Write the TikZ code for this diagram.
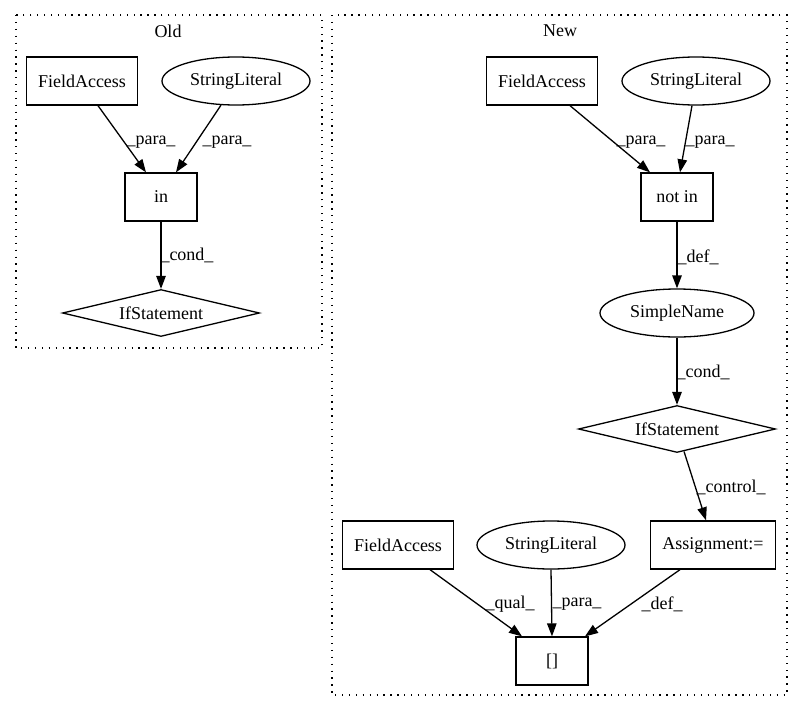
\documentclass[tikz,border=0pt]{standalone}
\usepackage{fontspec}
\setmainfont{Liberation Serif}
\usetikzlibrary{arrows.meta}
\usetikzlibrary{shapes.geometric}

\begin{document}
\begin{tikzpicture}[x=1pt, y=-1pt, line width=1.3pt,
  every node/.style={font=\fontsize{18}{22}\selectfont},
  box/.style={draw, rectangle, minimum height=48pt, inner sep=0pt},
  oval/.style={draw, ellipse, minimum width=148pt, minimum height=48pt, inner sep=0pt},
  cond/.style={draw, diamond, aspect=4.2, minimum width=197pt, minimum height=47pt, inner sep=0pt},
  cluster/.style={line width=1.3pt, dash pattern=on 1.3pt off 5.6pt},
  lbl/.style={inner sep=0pt},
  >={Triangle[length=13pt,width=9.5pt]}]
\useasboundingbox (0,0) rectangle (803,712);

% Old
\draw[cluster] (16,15) rectangle (322,348);
\node (old) at (168,31) {Old};
\node[box, minimum width=111pt] (faO) at (82,81) {FieldAccess};
\node[oval] (slO) at (236,81) {StringLiteral};
\node[box, minimum width=72pt] (inO) at (161,197) {in};
\node[cond] (ifO) at (161,313) {IfStatement};
\draw[->] ([xshift=16pt]faO.south) -- ([xshift=-15pt]inO.north);
\draw[->] ([xshift=-15pt,yshift=0.5pt]slO.south) -- ([xshift=15pt]inO.north);
\draw[->] (inO) -- (ifO);
\node[lbl] (p1) at (151,142) {\_para\_};
\node[lbl] (p2) at (227,142) {\_para\_};
\node[lbl] (c1) at (187,255) {\_cond\_};

% New
\draw[cluster] (332,15) rectangle (787,695);
\node (new) at (560,31) {New};
\node[box, minimum width=111pt] (faN) at (542,81) {FieldAccess};
\node[oval] (slN) at (696,81) {StringLiteral};
\node[box, minimum width=72pt] (notin) at (677,197) {not in};
\node[oval, minimum width=154pt] (sn) at (677,313) {SimpleName};
\node[cond] (ifN) at (677,429) {IfStatement};
\node[box, minimum width=125pt] (asg) at (713,545) {Assignment:=};
\node[box, minimum width=111pt] (faB) at (398,545) {FieldAccess};
\node[oval] (slB) at (551,545) {StringLiteral};
\node[box, minimum width=72pt] (acc) at (552,661) {[]};
\draw[->] ([xshift=28pt]faN.south) -- ([xshift=-27pt]notin.north);
\draw[->] ([xshift=-4pt]slN.south) -- ([xshift=3pt]notin.north);
\draw[->] (notin) -- (sn);
\draw[->] (sn) -- (ifN);
\draw[->] ([xshift=7pt,yshift=1.7pt]ifN.south) -- ([xshift=-7pt]asg.north);
\draw[->] ([xshift=32pt]faB.south) -- ([xshift=-30pt]acc.north);
\draw[->] (slB.south) -- (acc.north);
\draw[->] ([xshift=-33pt]asg.south) -- ([xshift=33pt]acc.north);
\node[lbl] (p3) at (641,142) {\_para\_};
\node[lbl] (p4) at (710,142) {\_para\_};
\node[lbl] (d1) at (698,257) {\_def\_};
\node[lbl] (c2) at (703,372) {\_cond\_};
\node[lbl] (ctl) at (731,487) {\_control\_};
\node[lbl] (q1) at (510,604) {\_qual\_};
\node[lbl] (p5) at (577,604) {\_para\_};
\node[lbl] (d2) at (662,604) {\_def\_};
\end{tikzpicture}
\end{document}
